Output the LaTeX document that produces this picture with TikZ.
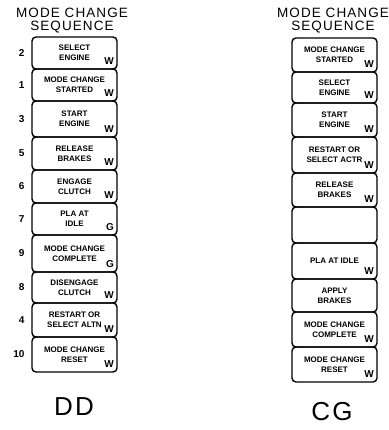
\documentclass[tikz,border=0pt]{standalone}
\usepackage{fontspec}
\setmainfont{Liberation Sans}
\newfontfamily\widefont[LetterSpace=8]{Liberation Sans}
\usetikzlibrary{positioning}

\begin{document}
\begin{tikzpicture}[x=1pt, y=-1pt,
    seqbox/.style={rectangle, rounded corners=4pt, draw, line width=1.4pt, outer sep=0pt, minimum width=85pt, align=center, inner sep=1pt, font=\bfseries\fontsize{8}{10}\selectfont},
    crewtag/.style={anchor=south east, inner xsep=3pt, inner ysep=4pt, font=\bfseries\fontsize{10}{10}\selectfont},
    num/.style={left=4pt, font=\bfseries\fontsize{10}{10}\selectfont},
    title/.style={align=center, font=\widefont\fontsize{13.5}{13}\selectfont},
    caption/.style={font=\widefont\fontsize{26}{26}\selectfont}
]
    \useasboundingbox (0,0) rectangle (388,430);

    % DD sequence
    \node[title] (ddtitle) at (72,21) {MODE CHANGE\\SEQUENCE};
    \node[seqbox, minimum height=32pt, anchor=north] (dd2) at (74.5,37) {SELECT\\ENGINE};
    \node[seqbox, minimum height=32pt, below=0pt of dd2] (dd1) {MODE CHANGE\\STARTED};
    \node[seqbox, minimum height=36pt, below=0pt of dd1] (dd3) {START\\ENGINE};
    \node[seqbox, minimum height=33pt, below=0pt of dd3] (dd5) {RELEASE\\BRAKES};
    \node[seqbox, minimum height=33pt, below=0pt of dd5] (dd6) {ENGAGE\\CLUTCH};
    \node[seqbox, minimum height=32pt, below=0pt of dd6] (dd7) {PLA AT\\IDLE};
    \node[seqbox, minimum height=37pt, below=0pt of dd7] (dd9) {MODE CHANGE\\COMPLETE};
    \node[seqbox, minimum height=31pt, below=0pt of dd9] (dd8) {DISENGAGE\\CLUTCH};
    \node[seqbox, minimum height=34pt, below=0pt of dd8] (dd4) {RESTART OR\\SELECT ALTN};
    \node[seqbox, minimum height=35pt, below=0pt of dd4] (dd10) {MODE CHANGE\\RESET};

    \node[num, at=(dd2.west)] (n2) {2};
    \node[num, at=(dd1.west)] (n1) {1};
    \node[num, at=(dd3.west)] (n3) {3};
    \node[num, at=(dd5.west)] (n5) {5};
    \node[num, at=(dd6.west)] (n6) {6};
    \node[num, at=(dd7.west)] (n7) {7};
    \node[num, at=(dd9.west)] (n9) {9};
    \node[num, at=(dd8.west)] (n8) {8};
    \node[num, at=(dd4.west)] (n4) {4};
    \node[num, at=(dd10.west)] (n10) {10};

    \node[crewtag] (dd2w) at (dd2.south east) {W};
    \node[crewtag] (dd1w) at (dd1.south east) {W};
    \node[crewtag] (dd3w) at (dd3.south east) {W};
    \node[crewtag] (dd5w) at (dd5.south east) {W};
    \node[crewtag] (dd6w) at (dd6.south east) {W};
    \node[crewtag] (dd7g) at (dd7.south east) {G};
    \node[crewtag] (dd9g) at (dd9.south east) {G};
    \node[crewtag] (dd8w) at (dd8.south east) {W};
    \node[crewtag] (dd4w) at (dd4.south east) {W};
    \node[crewtag] (dd10w) at (dd10.south east) {W};

    \node[caption] (dd) at (74,407) {DD};

    % CG sequence
    \node[title] (cgtitle) at (333,21) {MODE CHANGE\\SEQUENCE};
    \node[seqbox, minimum height=34pt, anchor=north] (cg1) at (334.5,38) {MODE CHANGE\\STARTED};
    \node[seqbox, minimum height=31pt, below=0pt of cg1] (cg2) {SELECT\\ENGINE};
    \node[seqbox, minimum height=34pt, below=0pt of cg2] (cg3) {START\\ENGINE};
    \node[seqbox, minimum height=36pt, below=0pt of cg3] (cg4) {RESTART OR\\SELECT ACTR};
    \node[seqbox, minimum height=34pt, below=0pt of cg4] (cg5) {RELEASE\\BRAKES};
    \node[seqbox, minimum height=36pt, below=0pt of cg5] (cg6) {};
    \node[seqbox, minimum height=36pt, below=0pt of cg6] (cg7) {PLA AT IDLE};
    \node[seqbox, minimum height=33pt, below=0pt of cg7] (cg8) {APPLY\\BRAKES};
    \node[seqbox, minimum height=35pt, below=0pt of cg8] (cg9) {MODE CHANGE\\COMPLETE};
    \node[seqbox, minimum height=35pt, below=0pt of cg9] (cg10) {MODE CHANGE\\RESET};

    \node[crewtag] (cg1w) at (cg1.south east) {W};
    \node[crewtag] (cg2w) at (cg2.south east) {W};
    \node[crewtag] (cg3w) at (cg3.south east) {W};
    \node[crewtag] (cg4w) at (cg4.south east) {W};
    \node[crewtag] (cg5w) at (cg5.south east) {W};
    \node[crewtag] (cg7w) at (cg7.south east) {W};
    \node[crewtag] (cg9w) at (cg9.south east) {W};
    \node[crewtag] (cg10w) at (cg10.south east) {W};

    \node[caption] (cg) at (332,412) {CG};
\end{tikzpicture}
\end{document}
